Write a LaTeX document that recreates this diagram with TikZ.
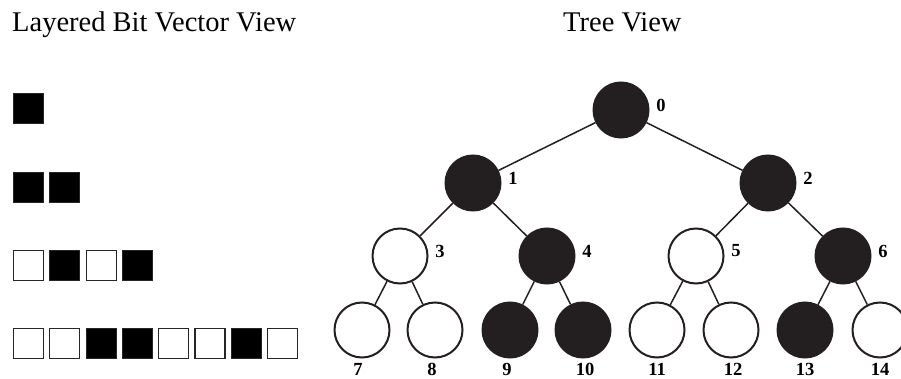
\documentclass[tikz,border=0pt]{standalone}
\usepackage{fontspec}
\setmainfont{Liberation Serif}
\definecolor{treeblack}{HTML}{231F20}
\begin{document}
\begin{tikzpicture}[x=1pt,y=-1pt,
  bit0/.style={draw=black!85,line width=1.2pt,minimum size=30pt,inner sep=0pt,fill=white},
  bit1/.style={bit0,fill=black},
  tnode/.style={circle,draw=treeblack,line width=2pt,minimum size=55pt,inner sep=0pt,fill=white},
  full/.style={fill=treeblack},
  idx/.style={font=\fontsize{18.5}{18.5}\selectfont\bfseries,inner sep=0pt},
  heading/.style={font=\fontsize{28.5}{30}\selectfont,inner sep=0pt,anchor=base west},
  edge/.style={line width=1.5pt,draw=treeblack}]
\useasboundingbox (0,0) rectangle (901,379);
\clip (0,0) rectangle (901,379);

% headings
\node[heading] (t1) at (12,32) {Layered Bit Vector View};
\node[heading] (t2) at (563,32) {Tree View};

% layered bit vectors
\foreach \row/\yy/\bits in {1/108.5/{1}, 2/187.5/{1,1}, 3/265.5/{0,1,0,1}, 4/343.5/{0,0,1,1,0,0,1,0}} {
  \foreach \b [count=\i] in \bits {
    \node[bit\b] (b\row-\i) at ({28.5+36.3*(\i-1)},\yy) {};
  }
}

% tree nodes
\node[tnode,full] (n0)  at (621,110) {};
\node[tnode,full] (n1)  at (473,183) {};
\node[tnode,full] (n2)  at (768,183) {};
\node[tnode]      (n3)  at (400,256) {};
\node[tnode,full] (n4)  at (547,256) {};
\node[tnode]      (n5)  at (696,256) {};
\node[tnode,full] (n6)  at (843,256) {};
\node[tnode]      (n7)  at (362,330) {};
\node[tnode]      (n8)  at (435,330) {};
\node[tnode,full] (n9)  at (510,330) {};
\node[tnode,full] (n10) at (583,330) {};
\node[tnode]      (n11) at (657,330) {};
\node[tnode]      (n12) at (731,330) {};
\node[tnode,full] (n13) at (805,330) {};
\node[tnode]      (n14) at (880,330) {};

% tree edges
\draw[edge] (n0) -- (n1);
\draw[edge] (n0) -- (n2);
\draw[edge] (n1) -- (n3);
\draw[edge] (n1) -- (n4);
\draw[edge] (n2) -- (n5);
\draw[edge] (n2) -- (n6);
\draw[edge] (n3) -- (n7);
\draw[edge] (n3) -- (n8);
\draw[edge] (n4) -- (n9);
\draw[edge] (n4) -- (n10);
\draw[edge] (n5) -- (n11);
\draw[edge] (n5) -- (n12);
\draw[edge] (n6) -- (n13);
\draw[edge] (n6) -- (n14);

% indices of inner nodes
\foreach \k in {0,...,6} {
  \node[idx] (l\k) at ([shift={(40,-5)}]n\k.center) {\k};
}
% indices of leaves
\foreach \k/\dx in {7/-4,8/-3,9/-3,10/2,11/0,12/2,13/0,14/0} {
  \node[idx] (l\k) at ([shift={(\dx,39.5)}]n\k.center) {\k};
}
\end{tikzpicture}
\end{document}
